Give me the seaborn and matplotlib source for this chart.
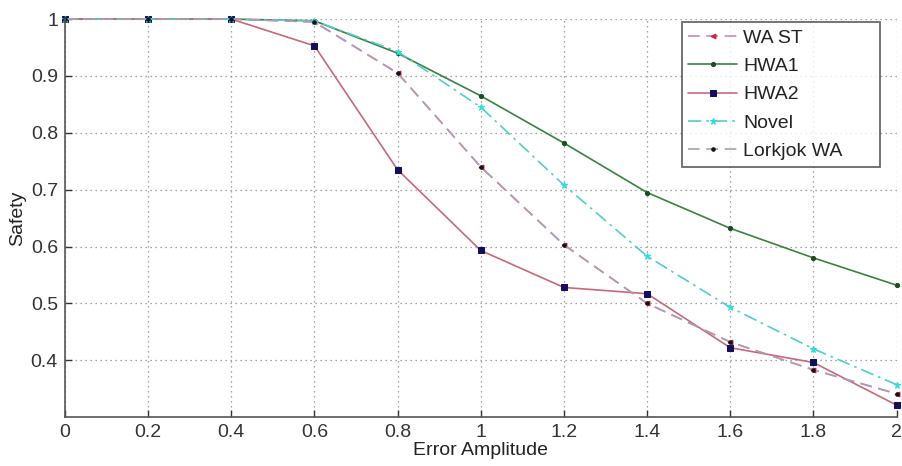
import matplotlib
matplotlib.use("Agg")
import matplotlib.pyplot as plt
import numpy as np
import pandas as pd
import seaborn as sns

# error amplitude on the x axis
amplitude = [0.0, 0.2, 0.4, 0.6, 0.8, 1.0, 1.2, 1.4, 1.6, 1.8, 2.0]

# safety values
wa_st = [1.0, 1.0, 1.0, 0.995, 0.905, 0.740, 0.603, 0.500, 0.432, 0.383, 0.341]
hwa1 = [1.0, 1.0, 1.0, 0.997, 0.940, 0.865, 0.782, 0.695, 0.632, 0.580, 0.532]
hwa2 = [1.0, 1.0, 1.0, 0.953, 0.735, 0.593, 0.528, 0.517, 0.422, 0.396, 0.321]
novel = [1.0, 1.0, 1.0, 0.997, 0.943, 0.845, 0.708, 0.583, 0.493, 0.420, 0.357]
lorkjok = [1.0, 1.0, 1.0, 0.995, 0.905, 0.740, 0.603, 0.500, 0.432, 0.383, 0.341]

x_ticks = [0, 0.2, 0.4, 0.6, 0.8, 1, 1.2, 1.4, 1.6, 1.8, 2]
x_tick_labels = ["0", "0.2", "0.4", "0.6", "0.8", "1", "1.2", "1.4", "1.6", "1.8", "2"]
y_ticks = [0.4, 0.5, 0.6, 0.7, 0.8, 0.9, 1.0]
y_tick_labels = ["0.4", "0.5", "0.6", "0.7", "0.8", "0.9", "1"]

sns.set_style("ticks")
plt.rcParams["font.family"] = ["Liberation Sans", "DejaVu Sans"]

fig = plt.figure(figsize=(9.02, 4.66), dpi=100)
ax = fig.add_axes([0.072, 0.105, 0.922, 0.854])

# style per series: line colour, linestyle, marker, marker colour, marker size
series = [
    ("WA ST", wa_st, "#c58ab8", (0, (7, 4)), "<", "#d02040", 3.5),
    ("HWA1", hwa1, "#3a8242", "-", "o", "#1d4d22", 3),
    ("HWA2", hwa2, "#c8687a", "-", "s", "#10105e", 5),
    ("Novel", novel, "#52cccc", (0, (8, 3, 1.5, 3)), "*", "#30dcdc", 5),
    ("Lorkjok WA", lorkjok, "#b49ab4", (0, (7, 4)), "o", "#111111", 2.5),
]

for name, vals, col, ls, mk, mcol, ms in series:
    df = pd.DataFrame({"Error Amplitude": amplitude, "Safety": vals})
    sns.lineplot(data=df, x="Error Amplitude", y="Safety", ax=ax,
                 color=col, linestyle=ls, linewidth=1.2,
                 marker=mk, markersize=ms, markerfacecolor=mcol,
                 markeredgecolor=mcol, label=name, clip_on=False)

ax.set_xlim(0, 2)
ax.set_ylim(0.3, 1.0)
ax.set_xticks(x_ticks)
ax.set_xticklabels(x_tick_labels)
ax.set_yticks(y_ticks)
ax.set_yticklabels(y_tick_labels)
ax.tick_params(direction="in", length=5, width=1, labelsize=14, colors="#333333",
               pad=5)
ax.grid(True, linestyle=(0, (1, 3)), color="#888888", linewidth=0.9)
ax.set_axisbelow(True)

sns.despine(ax=ax)
for sp in ["left", "bottom"]:
    ax.spines[sp].set_color("#555555")
    ax.spines[sp].set_linewidth(1.2)

ax.set_xlabel("Error Amplitude", fontsize=14, labelpad=1, color="#222222")
ax.set_ylabel("Safety", fontsize=14, labelpad=3, color="#222222")

leg = ax.legend(loc="upper left", bbox_to_anchor=(0.7416, 0.5, 0.238, 0.492),
                mode="expand", borderaxespad=0, fontsize=14,
                frameon=True, fancybox=False, edgecolor="#444444",
                handlelength=2.5, handletextpad=0.3, borderpad=0.35,
                labelspacing=0.55)
leg.get_frame().set_linewidth(1.3)
for t in leg.get_texts():
    t.set_color("#222222")

fig.savefig("out.png", dpi=100)
